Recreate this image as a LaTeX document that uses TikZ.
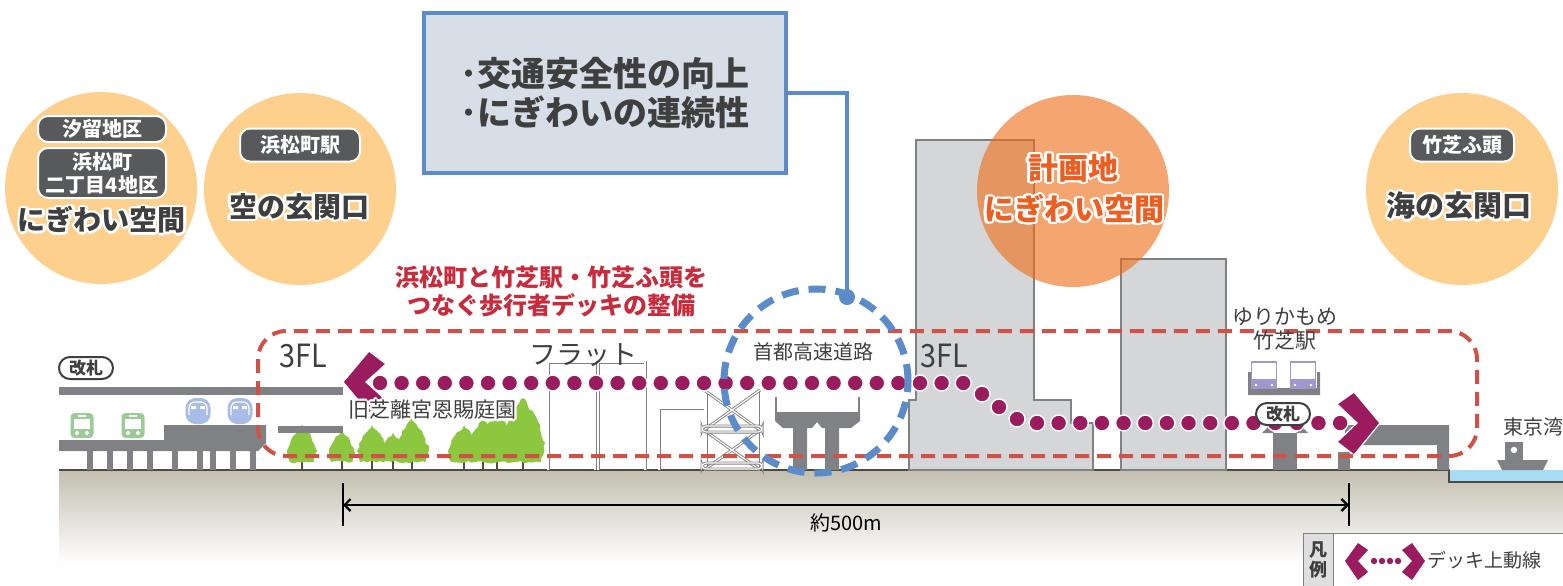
\documentclass[tikz,border=0pt]{standalone}
\usepackage{fontspec}
\setmainfont{Noto Sans CJK JP}
\usepackage{contour}
\contourlength{1.1pt}
\usetikzlibrary{arrows.meta,positioning,calc,decorations.pathmorphing}

\definecolor{deckred}{HTML}{CF5248}
\definecolor{deckpurple}{HTML}{9B1C5E}
\definecolor{skyblue}{HTML}{5B8CC9}
\definecolor{boxfill}{HTML}{D7DEE8}
\definecolor{peach}{HTML}{FDD08D}
\definecolor{coral}{HTML}{EE6A10}
\definecolor{planorange}{HTML}{EC5F22}
\definecolor{titlered}{HTML}{C72B3C}
\definecolor{labelgray}{HTML}{58595B}
\definecolor{inkgray}{HTML}{3F3F3F}
\definecolor{steel}{HTML}{808184}
\definecolor{bldfill}{HTML}{D5D6D8}
\definecolor{leaf}{HTML}{8DC63F}
\definecolor{bark}{HTML}{5A4A3C}
\definecolor{soil}{HTML}{C3BFB0}
\definecolor{soilline}{HTML}{4F4A45}
\definecolor{sea}{HTML}{A7DDF4}
\definecolor{busgreen}{HTML}{9CCB98}
\definecolor{trainblue}{HTML}{A8BCE8}
\definecolor{ymviolet}{HTML}{9F97CD}

\begin{document}
\begin{tikzpicture}[x=0.5pt, y=-0.5pt, >=Latex]
  \tikzstyle{disc}=[circle, minimum size=96pt, inner sep=0pt]
  \tikzstyle{tag}=[fill=labelgray, draw=white, line width=1pt, rounded corners=5pt, text=white, inner sep=0pt, align=center, font=\bfseries\fontsize{10}{12}\selectfont]
  \tikzstyle{bigword}=[text=inkgray, inner sep=0pt, font=\bfseries\fontsize{14}{16}\selectfont]
  \tikzstyle{gate}=[draw=inkgray, fill=white, line width=1pt, rounded corners=5.5pt, minimum width=27pt, minimum height=11pt, inner sep=0pt, text=inkgray, font=\bfseries\fontsize{8.5}{9}\selectfont]
  \tikzstyle{place}=[text=inkgray, inner sep=0pt, font=\fontsize{10.5}{12}\selectfont]
  \tikzstyle{floor}=[text=inkgray, inner sep=0pt, xscale=0.9, font=\fontsize{16}{16}\selectfont]
  \tikzstyle{dot}=[fill=deckpurple, draw=white, line width=0.7pt]
  \tikzstyle{bld}=[fill=bldfill, draw=steel, line width=1.2pt]
  \tikzstyle{thinframe}=[draw=gray, double=white, double distance=0.6pt, line width=0.45pt]
  \useasboundingbox (0,0) rectangle (1563,585);

  % ground and bay
  \shade[top color=soil, bottom color=white] (59,470) rectangle (1563,564);
  \fill[sea] (1449,470) rectangle (1563,482);
  \draw[soilline, line width=0.8pt] (59,470) -- (1449,470) -- (1449,482) -- (1563,482);

  % towers on the site
  \draw[bld] (916,140) -- (1034,140) -- (1034,400) -- (1071,400) -- (1071,423) -- (1093,423) -- (1093,470) -- (909,470) -- (909,400) -- (916,400) -- cycle;
  \draw[bld] (1121,259) rectangle (1226,470);

  % flat, scissor lift, expressway
  \draw[thinframe] (548,470) -- (548,362) -- (595,362) -- (595,470);
  \draw[thinframe] (598,470) -- (598,362) -- (645,362) -- (645,470);
  \draw[thinframe] (659,470) -- (659,408) -- (704,408);
  \draw[thinframe] (706,470) -- (706,390) (758,470) -- (758,390);
  \draw[thinframe] (704,390) -- (760,430) (760,390) -- (704,430) (704,430) -- (760,470) (760,430) -- (704,470);
  \draw[thinframe, rounded corners=2pt] (702,426) rectangle (762,432);
  \draw[thinframe, rounded corners=2pt] (702,463) rectangle (762,469);
  \fill[steel] (775,412) -- (860,412) -- (860,421) -- (851,428) -- (839,428) -- (839,470) -- (825,470) -- (825,428) -- (822,428) -- (817,422) -- (812,428) -- (807,428) -- (807,470) -- (793,470) -- (793,428) -- (783,428) -- (775,421) -- cycle;
  \draw[steel, line width=1.2pt] (776,397) -- (776,413) (859,397) -- (859,413);

  % garden trees
  \foreach \tx/\ty/\tw in {302/425/15, 342/431/13, 372/425/15, 393/433/13, 412/418/17, 464/425/16, 483/420/17, 497/412/18, 523/398/22} {
    \draw[bark, line width=1pt] (\tx,470) -- (\tx,455);
    \fill[leaf, decorate, decoration={random steps, segment length=2pt, amplitude=0.7pt}]
      (\tx,\ty) -- ({\tx+0.6*\tw},{\ty+0.3*(462-\ty)}) -- ({\tx+\tw},{\ty+0.7*(462-\ty)})
      -- ({\tx+0.8*\tw},462) -- ({\tx-0.8*\tw},462) -- ({\tx-\tw},{\ty+0.7*(462-\ty)})
      -- ({\tx-0.6*\tw},{\ty+0.3*(462-\ty)}) -- cycle;
  }

  % Hamamatsucho station
  \fill[steel] (59,387) rectangle (343,395);
  \fill[steel] (278,426) rectangle (343,433);
  \fill[steel] (59,440) -- (164,440) -- (164,425) -- (266,425) -- (266,443) -- (258,451) -- (59,451) -- cycle;
  \foreach \px in {90,110,130,150,175,200,213,233,253}
    \fill[steel] ({\px-3},451) rectangle ({\px+3},470);
  \foreach \bx in {82,133} {
    \fill[busgreen, rounded corners=2pt] ({\bx-11.5},413) rectangle ({\bx+11.5},438);
    \fill[white] ({\bx-8},419) rectangle ({\bx+8},429);
    \fill[white] ({\bx-4},415) rectangle ({\bx+4},417);
    \fill[white] ({\bx-5},433) circle (1pt) ({\bx+5},433) circle (1pt);
  }
  \foreach \bx in {198,240} {
    \fill[trainblue, rounded corners=5pt] ({\bx-12.5},398) rectangle ({\bx+12.5},424);
    \draw[white, line width=0.6pt, rounded corners=3pt] ({\bx-9},415) -- ({\bx-9},402) -- ({\bx+9},402) -- ({\bx+9},415);
    \fill[white] ({\bx-7},406) rectangle ({\bx-2},409) ({\bx+2},406) rectangle ({\bx+7},409);
  }
  \node[gate] (gatewest) at (86,368) {改札};

  % Takeshiba station and pier
  \fill[steel] (1248,372) rectangle (1251,395) (1317,372) rectangle (1320,395) (1248,388) rectangle (1320,395);
  \foreach \bx in {1264,1303} {
    \fill[white] ({\bx-12.5},362) rectangle ({\bx+12.5},388);
    \fill[ymviolet] ({\bx-12.5},379) rectangle ({\bx+12.5},388);
    \draw[ymviolet, line width=0.7pt] ({\bx-12.5},362) rectangle ({\bx+12.5},388);
    \fill[white] ({\bx-8},385) circle (0.7pt) ({\bx+8},385) circle (0.7pt);
  }
  \fill[steel] (1273,433) rectangle (1297,470);
  \fill[steel] (1262,433) -- (1268,427) -- (1274,433) -- cycle (1296,433) -- (1302,427) -- (1308,433) -- cycle;
  \fill[steel] (1345,425) -- (1449,425) -- (1449,470) -- (1437,470) -- (1437,445) -- (1345,445) -- cycle;
  \fill[steel] (1338,452) rectangle (1350,470);
  \fill[steel] (1497,460) -- (1548,460) -- (1543,470) -- (1502,470) -- cycle;
  \fill[steel] (1505,442) rectangle (1523,460);
  \fill[white] (1514,450) circle (1.6pt);

  % deck route
  \foreach \i in {0,...,27}
    \filldraw[dot] ({380+21.6*\i},383) circle (4pt);
  \foreach \p in {(982,394),(999,407),(1017,419)}
    \filldraw[dot] \p circle (4pt);
  \foreach \i in {0,...,14}
    \filldraw[dot] ({1037+21.65*\i},423) circle (4pt);
  \filldraw[deckpurple, draw=white, line width=0.6pt] (343,382) -- (369,351) -- (386,364) -- (366,382) -- (386,400) -- (369,413) -- cycle;
  \filldraw[deckpurple, draw=white, line width=0.6pt] (1380,423) -- (1354,392) -- (1337,404) -- (1357,423) -- (1337,442) -- (1354,455) -- cycle;
  \node[gate] (gateeast) at (1283,414) {改札};

  \draw[deckred, line width=2pt, dash pattern=on 7pt off 4pt, rounded corners=14pt] (258,331) rectangle (1477,456);

  % goals box and the crossing it points to
  \draw[skyblue, line width=3.5pt, dash pattern=on 8.5pt off 5pt] (816,381) circle (46pt);
  \node[draw=skyblue, fill=boxfill, line width=2.2pt, minimum width=181pt, minimum height=80pt, align=left, text=inkgray,
        font=\bfseries\fontsize{17}{19.5}\selectfont] (goals) at (605,93) {･交通安全性の向上\\･にぎわいの連続性};
  \coordinate (hub) at (847,297);
  \draw[skyblue, line width=2pt] (goals.east) -| (hub);
  \fill[skyblue] (hub) circle (4pt);

  \node[text=titlered, align=center, inner sep=0pt, font=\bfseries\fontsize{12}{14}\selectfont] (deckplan) at (551,291)
    {浜松町と竹芝駅・竹芝ふ頭を\\つなぐ歩行者デッキの整備};

  % district circles
  \node[disc, fill=peach] (shiodome) at (101,188) {};
  \node[tag, minimum width=64pt, minimum height=13pt] (shiodometag) at (102,129) {汐留地区};
  \node[tag, minimum width=64pt, minimum height=25pt, font=\bfseries\fontsize{10}{11.5}\selectfont] (nichometag) at (102,173) {浜松町\\二丁目4地区};
  \node[bigword] (shiodomeword) at (102,221) {\contour{white}{にぎわい空間}};

  \node[disc, fill=peach] (hamamatsucho) at (300,189) {};
  \node[tag, minimum width=60pt, minimum height=16.5pt] (hamamatsuchotag) at (300,145) {浜松町駅};
  \node[bigword] (skygate) at (299,208) {\contour{white}{空の玄関口}};

  \node[disc, fill=coral, fill opacity=0.6] (site) at (1073,191) {};
  \node[bigword, text=planorange, font=\bfseries\fontsize{15}{16}\selectfont] (siteword) at (1073,169) {\contour{white}{計画地}};
  \node[bigword, text=planorange, font=\bfseries\fontsize{15}{16}\selectfont] (siteplace) at (1074,210) {\contour{white}{にぎわい空間}};

  \node[disc, fill=peach] (takeshiba) at (1462,189) {};
  \node[tag, minimum width=52pt, minimum height=16.5pt] (takeshibatag) at (1462,145) {竹芝ふ頭};
  \node[bigword, font=\bfseries\fontsize{14.5}{16}\selectfont] (seagate) at (1459,207) {\contour{white}{海の玄関口}};

  % labels along the deck
  \node[floor] (floorwest) at (303,356) {3FL};
  \node[floor] (flooreast) at (944,356) {3FL};
  \node[text=inkgray, inner sep=0pt, font=\fontsize{13.5}{14}\selectfont] (flat) at (583,355) {フラット};
  \node[place, font=\fontsize{10}{12}\selectfont] (expressway) at (813,352) {首都高速道路};
  \node[place] (garden) at (432,411) {\contour{white}{旧芝離宮恩賜庭園}};
  \node[place] (yurikamome) at (1285,317) {ゆりかもめ};
  \node[place, below=2pt of yurikamome] (takeshibast) {竹芝駅};
  \node[place, anchor=west, font=\fontsize{10}{12}\selectfont] (bay) at (1503,427) {東京湾};

  % span of the deck
  \coordinate (spanL) at (343,505);
  \coordinate (spanR) at (1349,505);
  \draw[black, line width=1pt] (343,483) -- (343,526) (1349,483) -- (1349,526);
  \draw[{Straight Barb[length=3pt,width=6pt]}-{Straight Barb[length=3pt,width=6pt]}, line width=1.1pt] (spanL) -- (spanR);
  \node[text=black, inner sep=0pt, font=\fontsize{10}{12}\selectfont] (span) at (846,523) {約500m};

  % legend
  \draw[gray, line width=0.5pt, fill=white] (1303,533) rectangle (1570,592);
  \draw[gray, line width=0.5pt, fill=gray!25] (1303,533) rectangle (1333,592);
  \node[text=inkgray, align=center, inner sep=0pt, font=\bfseries\fontsize{9}{10}\selectfont] (legendhead) at (1318,560) {凡\\例};
  \fill[deckpurple] (1345,561) -- (1358,543) -- (1368,550) -- (1358,561) -- (1368,572) -- (1358,580) -- cycle;
  \fill[deckpurple] (1425,561) -- (1412,543) -- (1402,550) -- (1412,561) -- (1402,572) -- (1412,580) -- cycle;
  \foreach \lx in {1374,1382,1390,1398}
    \fill[deckpurple] (\lx,561) circle (1.6pt);
  \node[text=inkgray, inner sep=0pt, font=\fontsize{9.5}{11}\selectfont] (legendtext) at (1484,560) {デッキ上動線};
\end{tikzpicture}
\end{document}
